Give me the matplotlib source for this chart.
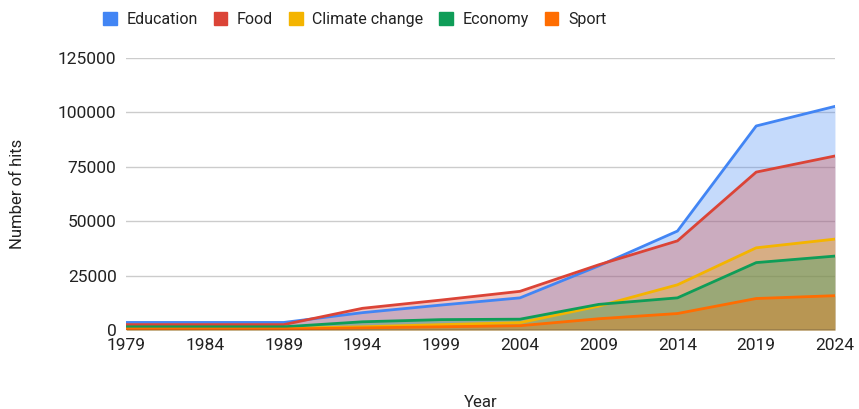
import matplotlib.pyplot as plt

plt.rcParams['font.family'] = ['Roboto', 'DejaVu Sans']

years = [1979, 1984, 1989, 1994, 1999, 2004, 2009, 2014, 2019, 2024]
education = [3500, 3500, 3500, 8000, 11500, 14800, 29500, 45500, 93800, 102800]
food = [2500, 2500, 2500, 10000, 13800, 17800, 30000, 41000, 72600, 80000]
climate = [800, 800, 800, 1500, 2500, 3400, 11000, 20800, 37800, 41800]
economy = [1500, 1500, 1500, 3800, 4800, 5000, 11800, 14800, 31000, 34000]
sport = [500, 500, 500, 1000, 1500, 2000, 5200, 7600, 14500, 15800]

series = [
    ("Education", education, "#4285F4"),
    ("Food", food, "#DB4437"),
    ("Climate change", climate, "#F4B400"),
    ("Economy", economy, "#0F9D58"),
    ("Sport", sport, "#FF6D01"),
]

fig, ax = plt.subplots(figsize=(8.59, 4.09), dpi=100)
fig.subplots_adjust(left=0.147, right=0.972, top=0.858, bottom=0.193)

for name, vals, col in series:
    ax.fill_between(years, vals, 0, color=col, alpha=0.3, linewidth=0)
    ax.plot(years, vals, color=col, linewidth=2, label=name)

ax.set_xlim(1979, 2024)
ax.set_ylim(0, 125000)
ax.set_xticks(years)
ax.set_yticks([0, 25000, 50000, 75000, 100000, 125000])
ax.tick_params(length=0, labelsize=12.5, colors="#222222")
ax.tick_params(axis='x', pad=6)
ax.tick_params(axis='y', pad=7)
ax.grid(axis='y', color="#cccccc", linewidth=1)
ax.set_axisbelow(True)
for s in ax.spines.values():
    s.set_visible(False)
ax.axhline(0, color="#333333", linewidth=1)

ax.set_xlabel("Year", fontsize=12, labelpad=30, color="#222222")
ax.set_ylabel("Number of hits", fontsize=12, labelpad=24, color="#222222")

handles = [plt.Rectangle((0, 0), 1, 1, color=c) for _, _, c in series]
fig.legend(handles, [n for n, _, _ in series], loc="center",
           bbox_to_anchor=(0.413, 0.953), ncol=5, frameon=False, fontsize=11.5,
           handlelength=0.85, handleheight=0.85, columnspacing=1.0,
           handletextpad=0.6, labelcolor="#222222")

plt.savefig("out.png", dpi=100)
